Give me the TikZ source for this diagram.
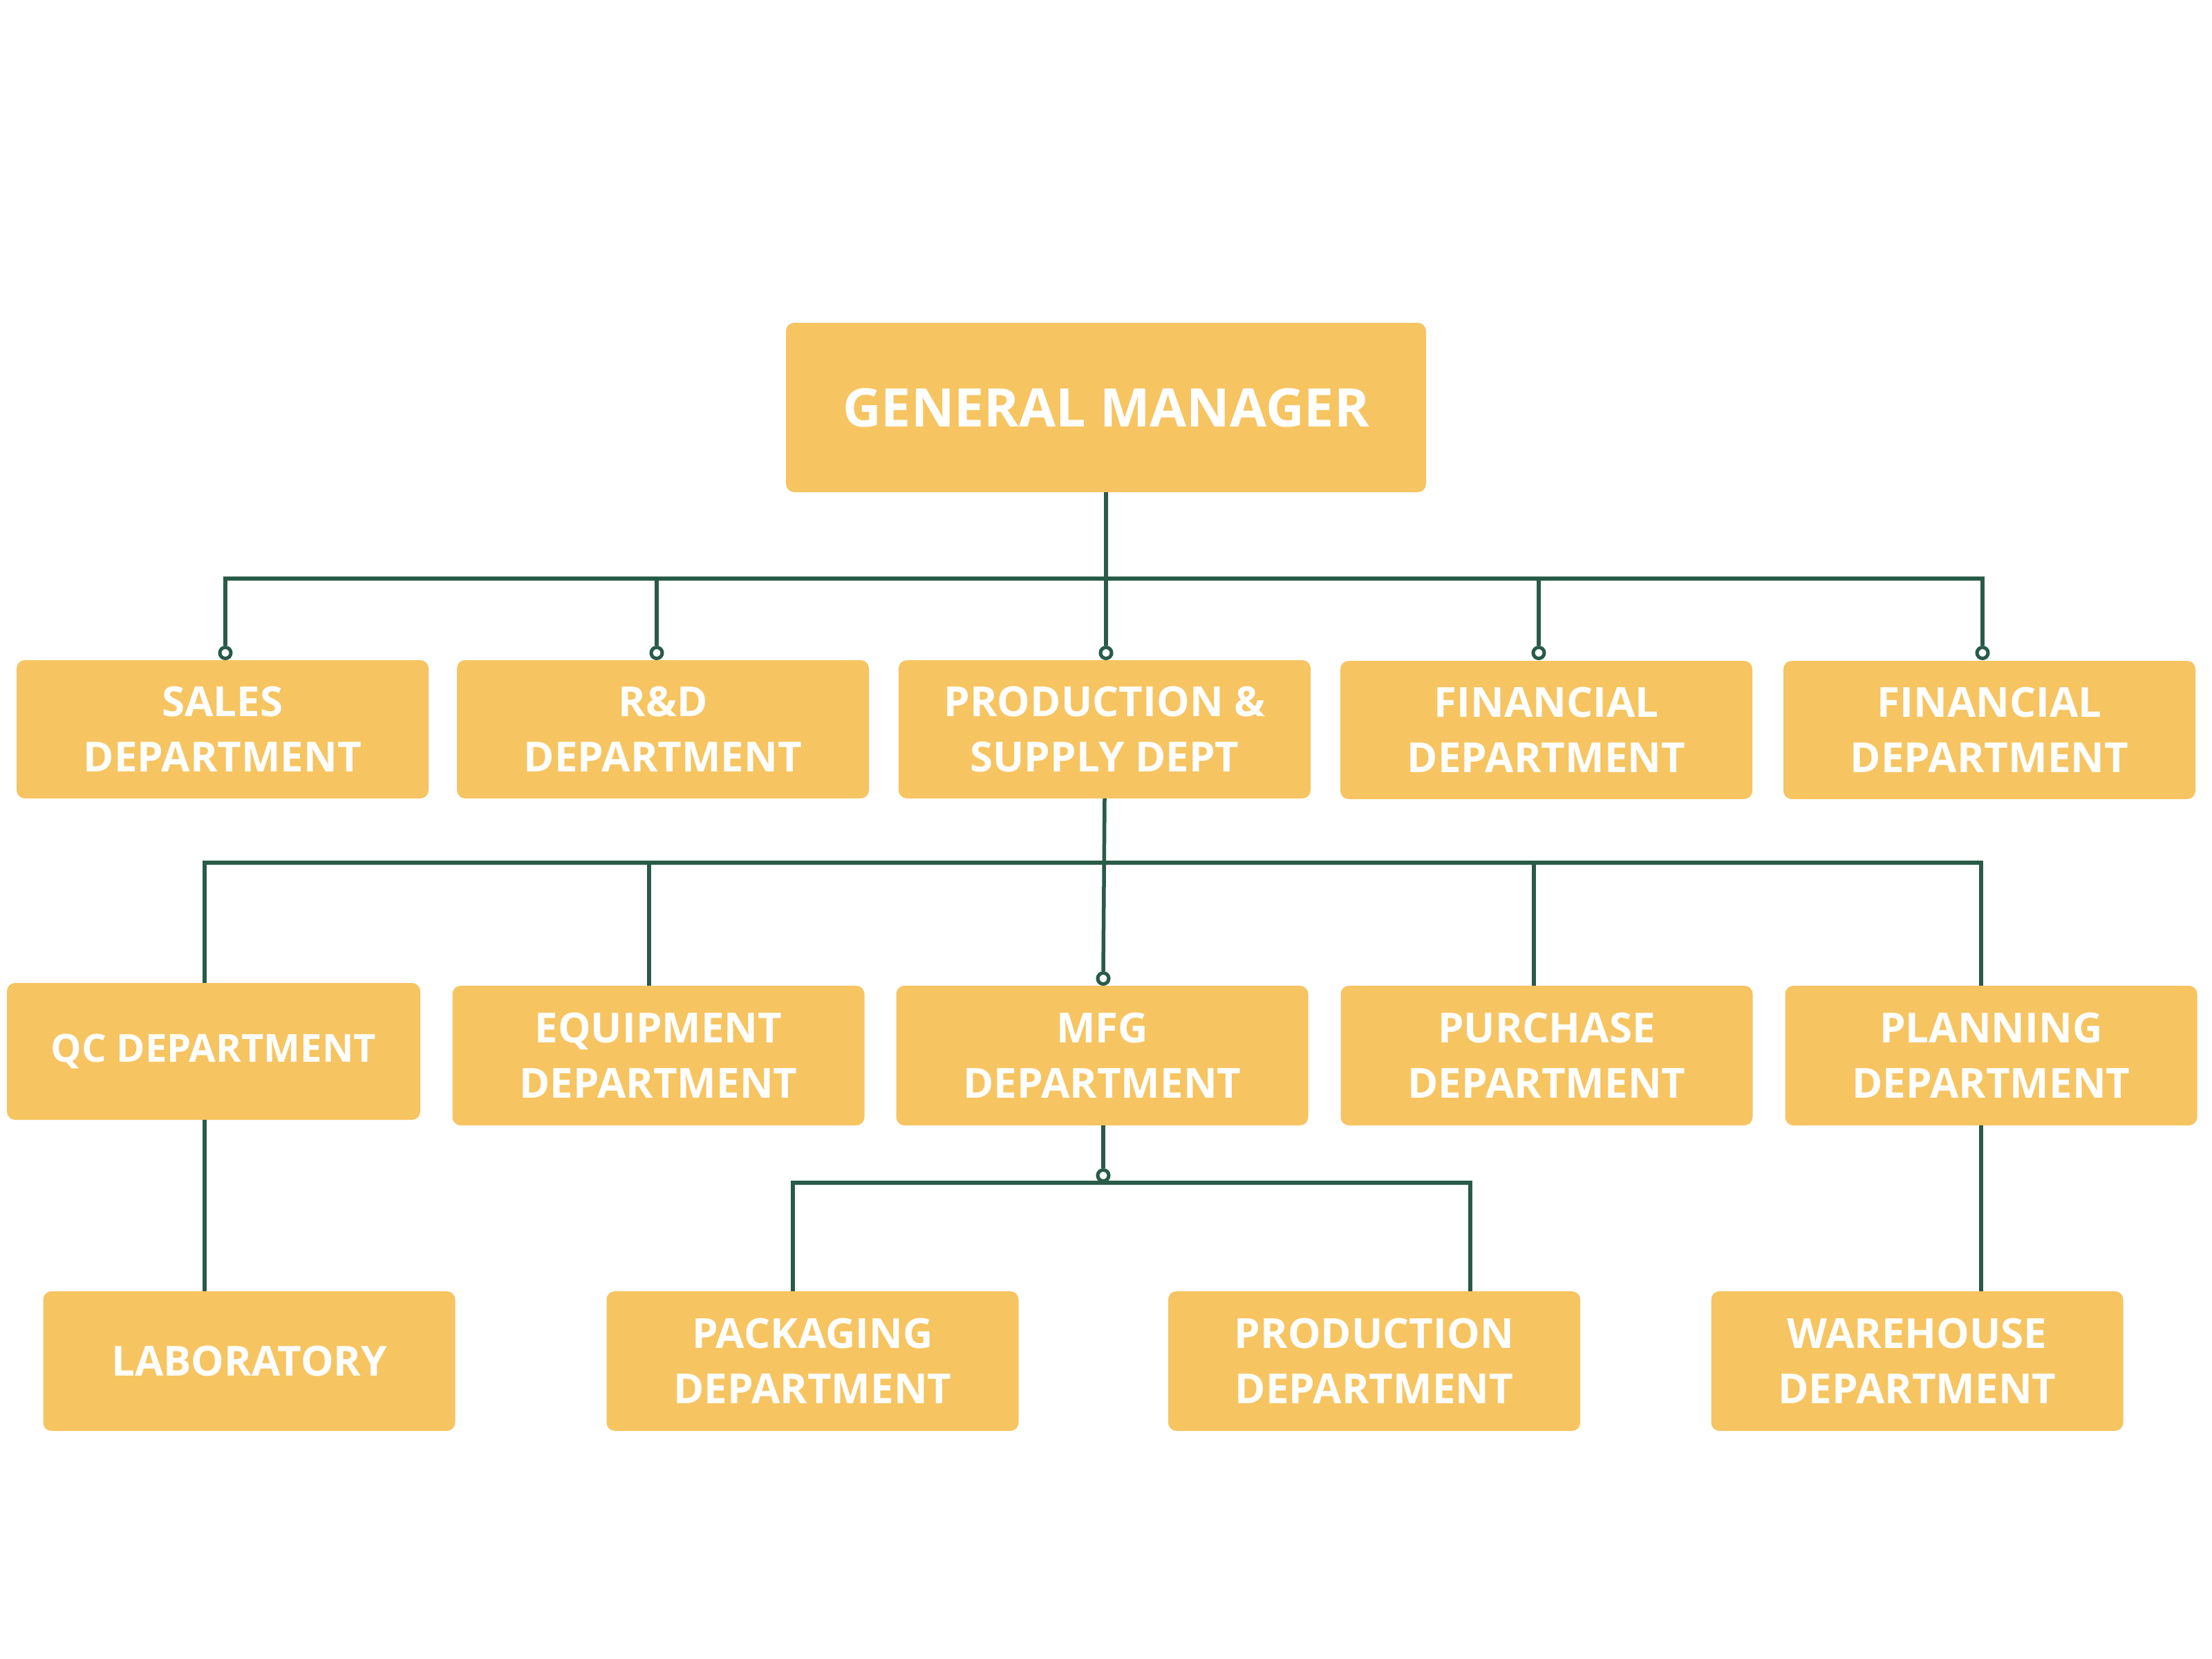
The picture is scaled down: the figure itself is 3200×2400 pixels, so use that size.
\documentclass[tikz,border=0pt]{standalone}
\usepackage{fontspec}
\setmainfont{Open Sans}
\definecolor{boxfill}{HTML}{F6C461}
\definecolor{linegreen}{HTML}{285B48}
\begin{document}
\begin{tikzpicture}[x=1pt,y=-1pt,
  box/.style={fill=boxfill, rounded corners=12pt, text=white,
    font=\bfseries\fontsize{60}{80}\selectfont, align=center, inner sep=0pt,
    minimum width=596pt, minimum height=200pt},
  gmbox/.style={box, minimum width=926pt, minimum height=245pt,
    font=\bfseries\fontsize{77}{90}\selectfont},
  conn/.style={draw=linegreen, line width=5.5pt},
  dot/.style={circle, draw=linegreen, fill=white, line width=5pt,
    minimum size=16pt, inner sep=0pt}]
\useasboundingbox (0,0) rectangle (3200,2400);
\fill[white] (0,0) rectangle (3200,2400);

% boxes
\node[gmbox] (gm) at (1600,589.5) {GENERAL MANAGER};

\node[box] (sales) at (322,1055) {SALES\\DEPARTMENT};
\node[box] (rd)    at (959,1055) {R\&D\\DEPARTMENT};
\node[box] (psd)   at (1598,1055) {PRODUCTION \&\\SUPPLY DEPT};
\node[box] (fin1)  at (2237,1056) {FINANCIAL\\DEPARTMENT};
\node[box] (fin2)  at (2878,1056) {FINANCIAL\\DEPARTMENT};

\node[box, minimum width=598pt, minimum height=198pt, font=\bfseries\fontsize{56}{75}\selectfont] (qc) at (309,1521) {QC DEPARTMENT};
\node[box, minimum height=202pt] (equip) at (952.5,1527) {EQUIPMENT\\DEPARTMENT};
\node[box, minimum height=202pt] (mfg)   at (1594.5,1527) {MFG\\DEPARTMENT};
\node[box, minimum height=202pt] (purch) at (2237.5,1527) {PURCHASE\\DEPARTMENT};
\node[box, minimum height=202pt] (plan)  at (2880.5,1527) {PLANNING\\DEPARTMENT};

\node[box, minimum height=202pt] (lab)      at (360.5,1969) {LABORATORY};
\node[box, minimum height=202pt] (pack)     at (1175.5,1969) {PACKAGING\\DEPARTMENT};
\node[box, minimum height=202pt] (proddept) at (1988,1969) {PRODUCTION\\DEPARTMENT};
\node[box, minimum height=202pt] (ware)     at (2773.5,1969) {WAREHOUSE\\DEPARTMENT};

% end circles
\node[dot] (c-sales) at (326,944.5) {};
\node[dot] (c-rd)    at (950,944.5) {};
\node[dot] (c-psd)   at (1600,944.5) {};
\node[dot] (c-fin1)  at (2226,944.5) {};
\node[dot] (c-fin2)  at (2868,944.5) {};
\node[dot] (c-mfg)   at (1596,1415.5) {};
\node[dot] (c-mfgb)  at (1596,1700.5) {};

% helper coordinates
\coordinate (b1) at (0,837);
\coordinate (b2) at (0,1248);
\coordinate (qcx) at (296,0);
\coordinate (eqx) at (939,0);
\coordinate (pux) at (2219,0);
\coordinate (plx) at (2866,0);
\coordinate (pkx) at (1147,0);
\coordinate (pdx) at (2127,0);

% level 1
\draw[conn] (gm.south -| c-psd) -- (c-psd.north);
\draw[conn] (c-sales.north) -- (c-sales.north |- b1) -- (c-fin2.north |- b1) -- (c-fin2.north);
\draw[conn] (c-rd.north |- b1) -- (c-rd.north);
\draw[conn] (c-fin1.north |- b1) -- (c-fin1.north);

% level 2
\draw[conn] (psd.south) -- (c-mfg.north);
\draw[conn] (qc.north -| qcx) -- (qcx |- b2) -- (plx |- b2) -- (plan.north -| plx);
\draw[conn] (eqx |- b2) -- (equip.north -| eqx);
\draw[conn] (pux |- b2) -- (purch.north -| pux);

% level 3
\draw[conn] (qc.south -| qcx) -- (lab.north -| qcx);
\draw[conn] (plan.south -| plx) -- (ware.north -| plx);
\draw[conn] (mfg.south -| c-mfgb) -- (c-mfgb.north);
\draw[conn] (pack.north -| pkx) -- (pkx |- c-mfgb.south) -- (pdx |- c-mfgb.south) -- (proddept.north -| pdx);
\end{tikzpicture}
\end{document}
